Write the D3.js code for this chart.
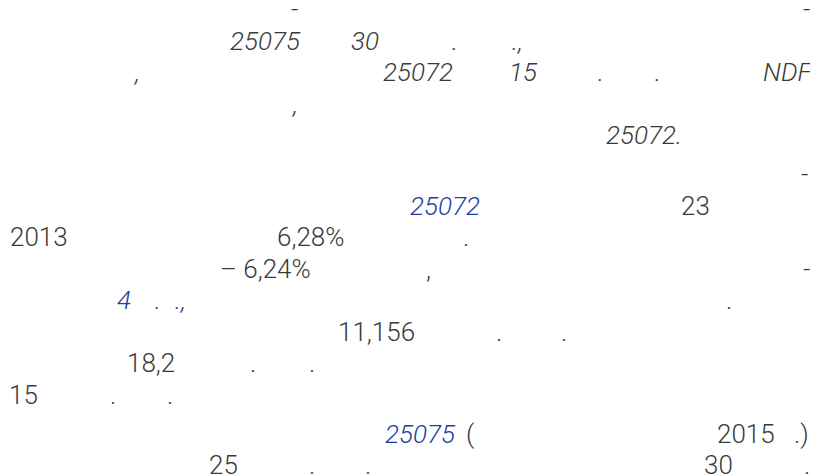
<!DOCTYPE html>
<html>
<head>
<meta charset="utf-8">
<script src="https://cdn.jsdelivr.net/npm/d3@7"></script>
<style>
  body { margin: 0; background: #fff; }
  svg { display: block; }
</style>
</head>
<body>
<div id="page"></div>
<script>
// visible fragments of each text line (non-latin glyphs did not render in the source)
var lineText = [
  ["-", "-"],
  ["25075", "30", ".", ".,"],
  [",", "25072", "15", ".", ".", "NDF"],
  [","],
  ["25072."],
  ["-"],
  ["25072", "23"],
  ["2013", "6,28%", "."],
  ["– 6,24%", ",", "-"],
  ["4", ".", ".,", "."],
  ["11,156", ".", "."],
  ["18,2", ".", "."],
  ["15", ".", "."],
  ["25075", "(", "2015", ".)"],
  ["25", ".", ".", "30", "."]
];
// which fragments are links (blue)
var lineLinks = [
  [0, 0], [0, 0, 0, 0], [0, 0, 0, 0, 0, 0], [0], [0],
  [0], [1, 0], [0, 0, 0], [0, 0, 1], [1, 1, 1, 0], [0, 0, 0], [0, 0, 0], [0, 0, 0],
  [1, 0, 0, 0], [0, 0, 0, 0, 0]
];
var paraOfLine = [0, 0, 0, 0, 0, 1, 1, 1, 1, 1, 1, 1, 1, 2, 2];
var italicParas = [true, false, false];

// layout: left x of every fragment
var lineX = [
  [291, 803],
  [230, 351, 452, 512],
  [135, 383, 509, 598, 655, 763],
  [293],
  [606],
  [801],
  [410, 681],
  [10, 277, 463],
  [220, 426, 803],
  [117, 155, 175, 726],
  [338, 496, 561],
  [127, 250, 309],
  [9, 110, 167],
  [385, 466, 717, 794],
  [209, 309, 365, 704, 804]
];

var w = 827, h = 476;
var lineH = 31.5, paraGap = 7.5;
var y = d3.scaleLinear().domain([0, 1]).range([18, 18 + lineH]);

var svg = d3.select("#page").append("svg")
    .attr("width", w)
    .attr("height", h);

svg.append("clipPath").attr("id", "col")
  .append("rect").attr("x", 0).attr("y", 0).attr("width", 810).attr("height", h);

var frags = [];
lineText.forEach(function(parts, i) {
  parts.forEach(function(t, j) {
    frags.push({
      text: t,
      x: lineX[i][j],
      y: y(i) + paraOfLine[i] * paraGap,
      link: lineLinks[i][j] == 1,
      italic: italicParas[paraOfLine[i]] || (lineLinks[i][j] == 1 && t != "-")
    });
  });
});

svg.append("g")
    .attr("clip-path", "url(#col)")
  .selectAll("text")
  .data(frags)
  .enter()
  .append("text")
    .attr("x", function(d) { return d.x; })
    .attr("y", function(d) { return d.y; })
    .attr("font-family", "Roboto")
    .attr("font-size", 26)
    .attr("font-weight", 300)
    .attr("font-style", function(d) { return d.italic ? "italic" : "normal"; })
    .attr("fill", function(d) { return d.link ? "#1c3e9e" : "#3a3a3a"; })
    .attr("xml:space", "preserve")
    .style("white-space", "pre")
    .text(function(d) { return d.text; });
</script>
</body>
</html>
